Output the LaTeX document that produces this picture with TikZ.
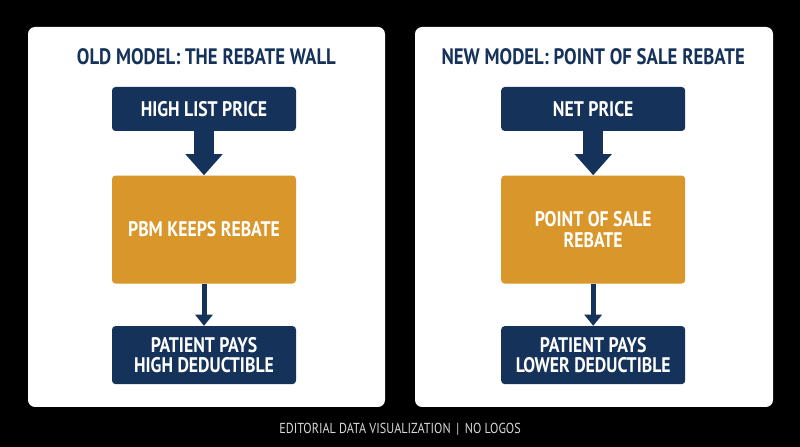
\documentclass[tikz,border=0pt]{standalone}
\usepackage{fontspec}
\setmainfont{PT Sans}
\newfontfamily\condfont{PT Sans}[FakeStretch=0.84]
\usetikzlibrary{arrows.meta,positioning}
\definecolor{navyF}{HTML}{15325A}
\definecolor{ochreF}{HTML}{D9962B}
\definecolor{footG}{HTML}{D8D8D8}

\begin{document}
\begin{tikzpicture}[x=1cm,y=1cm, font=\condfont\bfseries,
  ttl/.style={font=\condfont\bfseries\fontsize{15.9}{17}\selectfont, text=navyF},
  navybox/.style={fill=navyF, text=white, rounded corners=2.5pt, minimum width=4.6cm,
    align=center, inner sep=0pt, font=\condfont\bfseries\fontsize{15}{14.6}\selectfont},
  ochrebox/.style={navybox, fill=ochreF, minimum height=2.7cm},
  fatarrow/.style={-{Triangle[width=0.9cm,length=0.53cm]}, line width=0.5cm, draw=navyF},
  thinarrow/.style={-{Triangle[width=0.43cm,length=0.28cm]}, line width=0.125cm, draw=navyF},
  ]

\fill[black] (0,0) rectangle (20,11.175);
\useasboundingbox (0,0) rectangle (20,11.175);

% === panels
\fill[white, rounded corners=5pt] (0.70,1.00) rectangle (9.625,10.50);
\fill[white, rounded corners=5pt] (10.375,1.00) rectangle (19.325,10.50);

% === old model
\node[ttl] (oldttl) at (5.16,9.75) {OLD MODEL: THE REBATE WALL};
\node[navybox, minimum height=1.1cm] (oldlist) at (5.10,8.45) {HIGH LIST PRICE};
\node[ochrebox, below=1.1cm of oldlist] (oldpbm) {PBM KEEPS REBATE};
\node[navybox, minimum height=1.45cm, below=1.05cm of oldpbm] (oldpay)
  {PATIENT PAYS\\HIGH DEDUCTIBLE};
\draw[fatarrow] (oldlist) -- (oldpbm);
\draw[thinarrow] (oldpbm) -- (oldpay);

% === new model
\node[ttl] (newttl) at (14.83,9.75) {NEW MODEL: POINT OF SALE REBATE};
\node[navybox, minimum height=1.1cm] (newnet) at (14.83,8.45) {NET PRICE};
\node[ochrebox, below=1.1cm of newnet] (newpos) {POINT OF SALE\\REBATE};
\node[navybox, minimum height=1.45cm, below=1.05cm of newpos] (newpay)
  {PATIENT PAYS\\LOWER DEDUCTIBLE};
\draw[fatarrow] (newnet) -- (newpos);
\draw[thinarrow] (newpos) -- (newpay);

% === footer
\node[font=\condfont\fontsize{10.3}{12}\selectfont, text=footG] (foot) at (10,0.45)
  {EDITORIAL DATA VISUALIZATION \,|\, NO LOGOS};

\end{tikzpicture}
\end{document}
